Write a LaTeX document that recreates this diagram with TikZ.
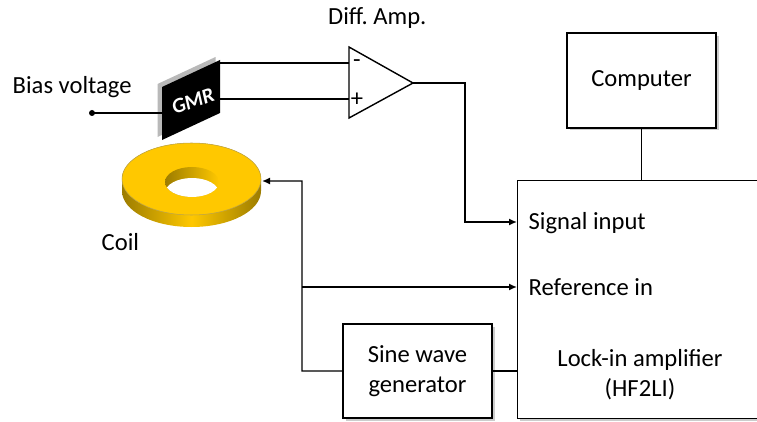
\documentclass[tikz,border=0pt]{standalone}
\usepackage{fontspec}
\setmainfont{Carlito}
\usetikzlibrary{arrows.meta,shadows}

\definecolor{spulegelb}{HTML}{FFC800}
\definecolor{spuledunkel}{HTML}{9C7C00}

\begin{document}
\begin{tikzpicture}[thick, font=\fontsize{14}{17}\selectfont,
    pfeil/.style={-{Latex[length=1.6mm,width=1.4mm]}},
    schrift/.style={anchor=base west, inner sep=0pt},
    kasten/.style={draw, fill=white, minimum width=2.98cm, minimum height=1.88cm,
      align=center, drop shadow={shadow xshift=0.5mm, shadow yshift=-0.5mm, fill=gray, opacity=0.4}}]
  \clip (0,0) rectangle (15.14,8.42);

  % Kaesten
  \node[kasten, minimum width=5.9cm, minimum height=4.76cm, anchor=north west]
    (lockin) at (10.34,4.82) {};
  \node[kasten, minimum height=1.9cm] (computer) at (12.83,6.81) {Computer};
  \node[kasten] (sine) at (8.35,1.00) {Sine wave\\generator};

  \node[schrift] (sig) at (10.56,3.82) {Signal input};
  \node[schrift] (ref) at (10.56,2.52) {Reference in};
  \node[align=center] (lockintext) at (12.80,0.92) {Lock-in amplifier\\(HF2LI)};

  \coordinate (sigin) at (10.34,3.98);
  \coordinate (refin) at (10.34,2.68);

  % Spule
  \begin{scope}[shift={(3.83,4.84)}]
    \shade[left color=spuledunkel, right color=spuledunkel, middle color=spulegelb]
      (-1.39,0) -- (-1.39,-0.24) arc[start angle=180, end angle=360, x radius=1.39, y radius=0.72]
      -- (1.39,0) arc[start angle=0, end angle=180, x radius=1.39, y radius=0.72] -- cycle;
    \fill[spulegelb, draw=spuledunkel!70, line width=0.3pt] (0,0) ellipse [x radius=1.39, y radius=0.72];
    \begin{scope}[shift={(0.01,-0.06)}]
      \shade[left color=spuledunkel, right color=spulegelb] (0,0) ellipse [x radius=0.54, y radius=0.30];
      \clip (0,0) ellipse [x radius=0.54, y radius=0.30];
      \fill[white] (0,-0.22) ellipse [x radius=0.54, y radius=0.30];
    \end{scope}
    \coordinate (coilR) at (1.41,-0.04);
  \end{scope}
  \node[schrift] (coil) at (2.02,3.42) {Coil};

  % GMR
  \fill[gray!55, shift={(-0.09,0.06)}] (3.24,5.62) -- (3.24,6.68) -- (4.40,7.22) -- (4.40,6.16) -- cycle;
  \fill[black] (3.24,5.62) -- (3.24,6.68) -- (4.40,7.22) -- (4.40,6.16) -- cycle;
  \node[white, inner sep=0pt, font=\fontsize{12}{14}\selectfont\bfseries\itshape, rotate=20] (gmr) at (3.86,6.40) {GMR};
  \coordinate (gmrl) at (3.24,6.16);
  \coordinate (gmrm) at (4.40,7.16);
  \coordinate (gmrp) at (4.40,6.44);

  \coordinate (bias) at (1.84,6.16);
  \fill (bias) circle (0.06);
  \draw (bias) -- (gmrl);
  \node[schrift] (biastext) at (0.24,6.56) {Bias voltage};

  % Verstaerker
  \coordinate (ampm) at (6.98,7.16);
  \coordinate (ampp) at (6.98,6.44);
  \coordinate (ampout) at (8.26,6.76);
  \draw[fill=white] (6.98,7.48) -- (ampout) -- (6.98,6.06) -- cycle;
  \node (minus) at (7.14,7.14) {-};
  \node (plus) at (7.14,6.42) {+};
  \node[schrift] (amptext) at (6.55,7.92) {Diff.\ Amp.};

  \draw (gmrm) -- (ampm);
  \draw (gmrp) -- (ampp);

  % Verbindungen
  \draw[pfeil] (ampout) -- ++(1.04,0) |- (sigin);
  \draw (computer.south) -- (computer.south |- lockin.north);
  \draw[pfeil] (sine.west) -| (6.04,4.80) -- (coilR);
  \draw[pfeil] (6.04,2.68) -- (refin);
  \draw (sine.east) -- (sine.east -| lockin.west);

\end{tikzpicture}
\end{document}
